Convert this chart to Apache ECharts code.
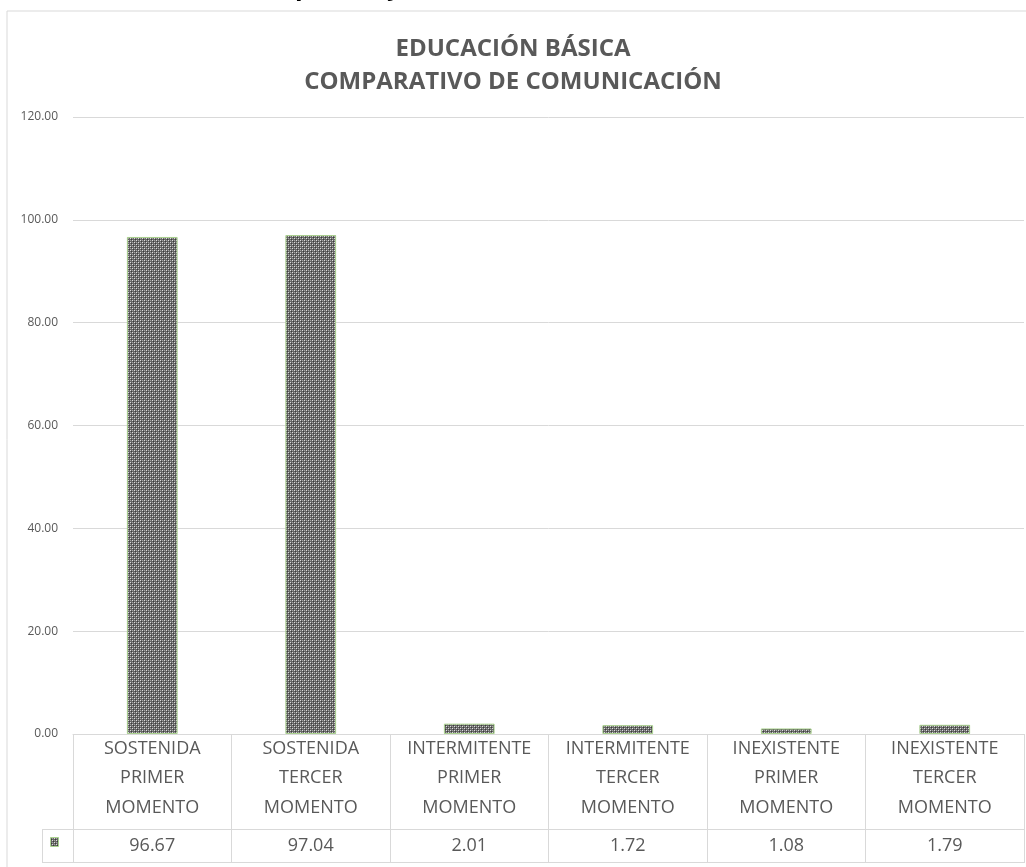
<!DOCTYPE html>
<html><head><meta charset="utf-8">
<script src="https://cdn.jsdelivr.net/npm/echarts@6/dist/echarts.min.js"></script>
<style>html,body{margin:0;padding:0;background:#fff}#c{width:1026px;height:867px}</style>
</head><body><div id="c"></div>
<script>
const categories = ['SOSTENIDA PRIMER MOMENTO','SOSTENIDA TERCER MOMENTO','INTERMITENTE PRIMER MOMENTO','INTERMITENTE TERCER MOMENTO','INEXISTENTE PRIMER MOMENTO','INEXISTENTE TERCER MOMENTO'];
const values = [96.67, 97.04, 2.01, 1.72, 1.08, 1.79];
const titleLines = ['EDUCACIÓN BÁSICA', 'COMPARATIVO DE COMUNICACIÓN'];
const topCutText = 'primer y tercer momento de evaluación';

function makePattern(){
  const c = document.createElement('canvas'); c.width = 4; c.height = 4;
  const g = c.getContext('2d');
  g.fillStyle = '#666666'; g.fillRect(0,0,4,4);
  g.fillStyle = '#dcdcdc';
  g.fillRect(0,0,1,1); g.fillRect(2,2,1,1);
  g.fillStyle = '#a5a5a5';
  g.fillRect(2,0,1,1); g.fillRect(0,2,1,1);
  g.fillStyle = '#3c3c3c';
  g.fillRect(1,1,1,1); g.fillRect(3,3,1,1);
  return c;
}
const pat = {image: makePattern(), repeat: 'repeat'};
const FONT = 'Open Sans';
const chart = echarts.init(document.getElementById('c'));
const gridL = 73, gridR = 2, gridT = 117, gridB = 133;
const W = 1026, H = 867;
const axisY = H - gridB;
const sepY = 829, botY = 863, keyX = 42;
chart.setOption({
  animation: false,
  textStyle: {fontFamily: FONT},
  title: {
    text: titleLines.join('\n'), left: 'center', top: 28,
    textStyle: {fontFamily: FONT, fontSize: 24, fontWeight: 'bold', color: '#595959', lineHeight: 33}
  },
  grid: {left: gridL, right: gridR, top: gridT, bottom: gridB},
  xAxis: {
    type: 'category', data: categories,
    axisLine: {lineStyle: {color: '#d9d9d9'}},
    axisTick: {show: true, interval: 0, length: botY - axisY, lineStyle: {color: '#d9d9d9'}},
    axisLabel: {
      interval: 0, margin: 0,
      formatter: function(v, i){
        return v.split(' ').map(s => '{n|' + s + '}').join('\n') + '\n{v|' + values[i].toFixed(2) + '}';
      },
      rich: {
        n: {fontFamily: FONT, fontSize: 18, color: '#595959', lineHeight: 29.5},
        v: {fontFamily: FONT, fontSize: 18, color: '#595959', lineHeight: 47}
      }
    }
  },
  yAxis: {
    type: 'value', min: 0, max: 120, interval: 20,
    axisLabel: {formatter: v => v.toFixed(2), color: '#595959', fontSize: 12, margin: 15, fontFamily: FONT},
    splitLine: {lineStyle: {color: '#d9d9d9'}},
    axisLine: {show: false}, axisTick: {show: false}
  },
  series: [{
    type: 'bar', data: values, barWidth: '32%',
    itemStyle: {color: pat, borderColor: '#a9d18e', borderWidth: 1}
  }],
  graphic: [
    {type: 'rect', shape: {x: 7, y: 11, width: 1030, height: 870}, style: {fill: 'none', stroke: '#d9d9d9', lineWidth: 1}, silent: true},
    {type: 'text', left: 295, top: -25, style: {text: topCutText, fontFamily: FONT, fontSize: 25, fontWeight: 'bold', fill: '#000'}},
    {type: 'line', shape: {x1: keyX, y1: sepY + 0.5, x2: W - gridR, y2: sepY + 0.5}, style: {stroke: '#d9d9d9', lineWidth: 1}},
    {type: 'line', shape: {x1: keyX, y1: botY - 0.5, x2: W - gridR, y2: botY - 0.5}, style: {stroke: '#d9d9d9', lineWidth: 1}},
    {type: 'line', shape: {x1: keyX + 0.5, y1: sepY, x2: keyX + 0.5, y2: botY}, style: {stroke: '#d9d9d9', lineWidth: 1}},
    {type: 'rect', shape: {x: 50.5, y: 837.5, width: 8, height: 9}, style: {fill: pat, stroke: '#a9d18e', lineWidth: 1}}
  ]
});
</script></body></html>
